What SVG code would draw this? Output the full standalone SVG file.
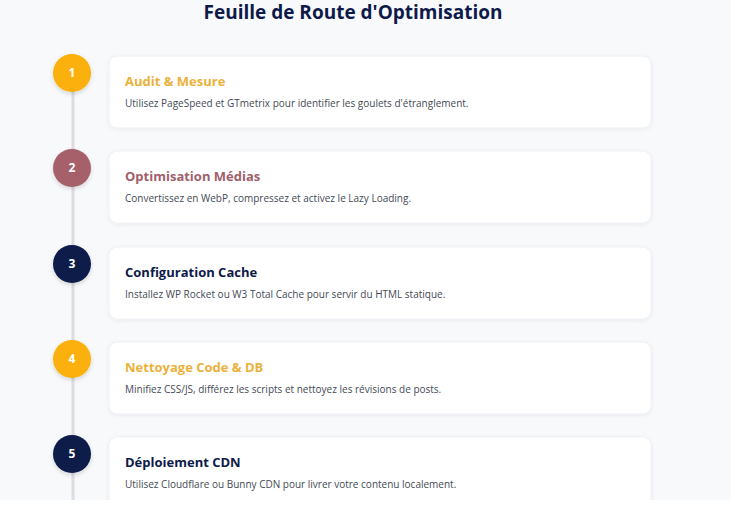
<svg xmlns="http://www.w3.org/2000/svg" width="731" height="506" viewBox="0 0 731 506">
<defs>
<filter id="sh" x="-5%" y="-20%" width="110%" height="140%">
<feDropShadow dx="0" dy="1" stdDeviation="2" flood-color="#000" flood-opacity="0.06"/>
</filter>
<filter id="csh" x="-50%" y="-50%" width="200%" height="200%">
<feDropShadow dx="0" dy="2" stdDeviation="2" flood-color="#000" flood-opacity="0.15"/>
</filter>
</defs>
<style>
.card{fill:#ffffff;stroke:#eef0f3;stroke-width:1;filter:url(#sh)}
.h{font-family:"Open Sans","Noto Sans",sans-serif;font-weight:700;font-size:13px}
.d{font-family:"Open Sans","Noto Sans",sans-serif;font-size:10px;fill:#444a55}
.n{font-family:"Open Sans","Noto Sans",sans-serif;font-weight:700;font-size:12px;fill:#ffffff;text-anchor:middle}
.c{filter:url(#csh)}
</style>
<rect width="731" height="506" fill="#f8f9fb"/>
<text x="353" y="19" text-anchor="middle" font-family="'Open Sans','Noto Sans',sans-serif" font-weight="700" font-size="19" fill="#0d1a4a">Feuille de Route d'Optimisation</text>
<g id="connectors">
<line x1="73" y1="73" x2="73" y2="500" stroke="#dcdde1" stroke-width="3"/>
</g>
<g id="step1">
<rect class="card" x="109" y="56" width="542" height="72" rx="8"/>
<circle class="c" cx="72" cy="73" r="19" fill="#fbb00e"/>
<text class="n" x="72" y="77">1</text>
<text class="h" x="125" y="86" fill="#ebb13b">Audit &amp; Mesure</text>
<text class="d" x="125" y="107">Utilisez PageSpeed et GTmetrix pour identifier les goulets d'étranglement.</text>
</g>
<g id="step2">
<rect class="card" x="109" y="151" width="542" height="72" rx="8"/>
<circle class="c" cx="72" cy="168" r="19" fill="#a6606a"/>
<text class="n" x="72" y="172">2</text>
<text class="h" x="125" y="181" fill="#a0606a">Optimisation Médias</text>
<text class="d" x="125" y="202">Convertissez en WebP, compressez et activez le Lazy Loading.</text>
</g>
<g id="step3">
<rect class="card" x="109" y="247" width="542" height="72" rx="8"/>
<circle class="c" cx="72" cy="264" r="19" fill="#0d1a4a"/>
<text class="n" x="72" y="268">3</text>
<text class="h" x="125" y="277" fill="#0d1a4a">Configuration Cache</text>
<text class="d" x="125" y="298">Installez WP Rocket ou W3 Total Cache pour servir du HTML statique.</text>
</g>
<g id="step4">
<rect class="card" x="109" y="342" width="542" height="72" rx="8"/>
<circle class="c" cx="72" cy="359" r="19" fill="#fbb00e"/>
<text class="n" x="72" y="363">4</text>
<text class="h" x="125" y="372" fill="#ebb13b">Nettoyage Code &amp; DB</text>
<text class="d" x="125" y="393">Minifiez CSS/JS, différez les scripts et nettoyez les révisions de posts.</text>
</g>
<g id="step5">
<rect class="card" x="109" y="437" width="542" height="72" rx="8"/>
<circle class="c" cx="72" cy="454" r="19" fill="#0d1a4a"/>
<text class="n" x="72" y="458">5</text>
<text class="h" x="125" y="467" fill="#0d1a4a">Déploiement CDN</text>
<text class="d" x="125" y="488">Utilisez Cloudflare ou Bunny CDN pour livrer votre contenu localement.</text>
</g>
<rect x="0" y="500" width="731" height="6" fill="#ffffff"/>
</svg>
